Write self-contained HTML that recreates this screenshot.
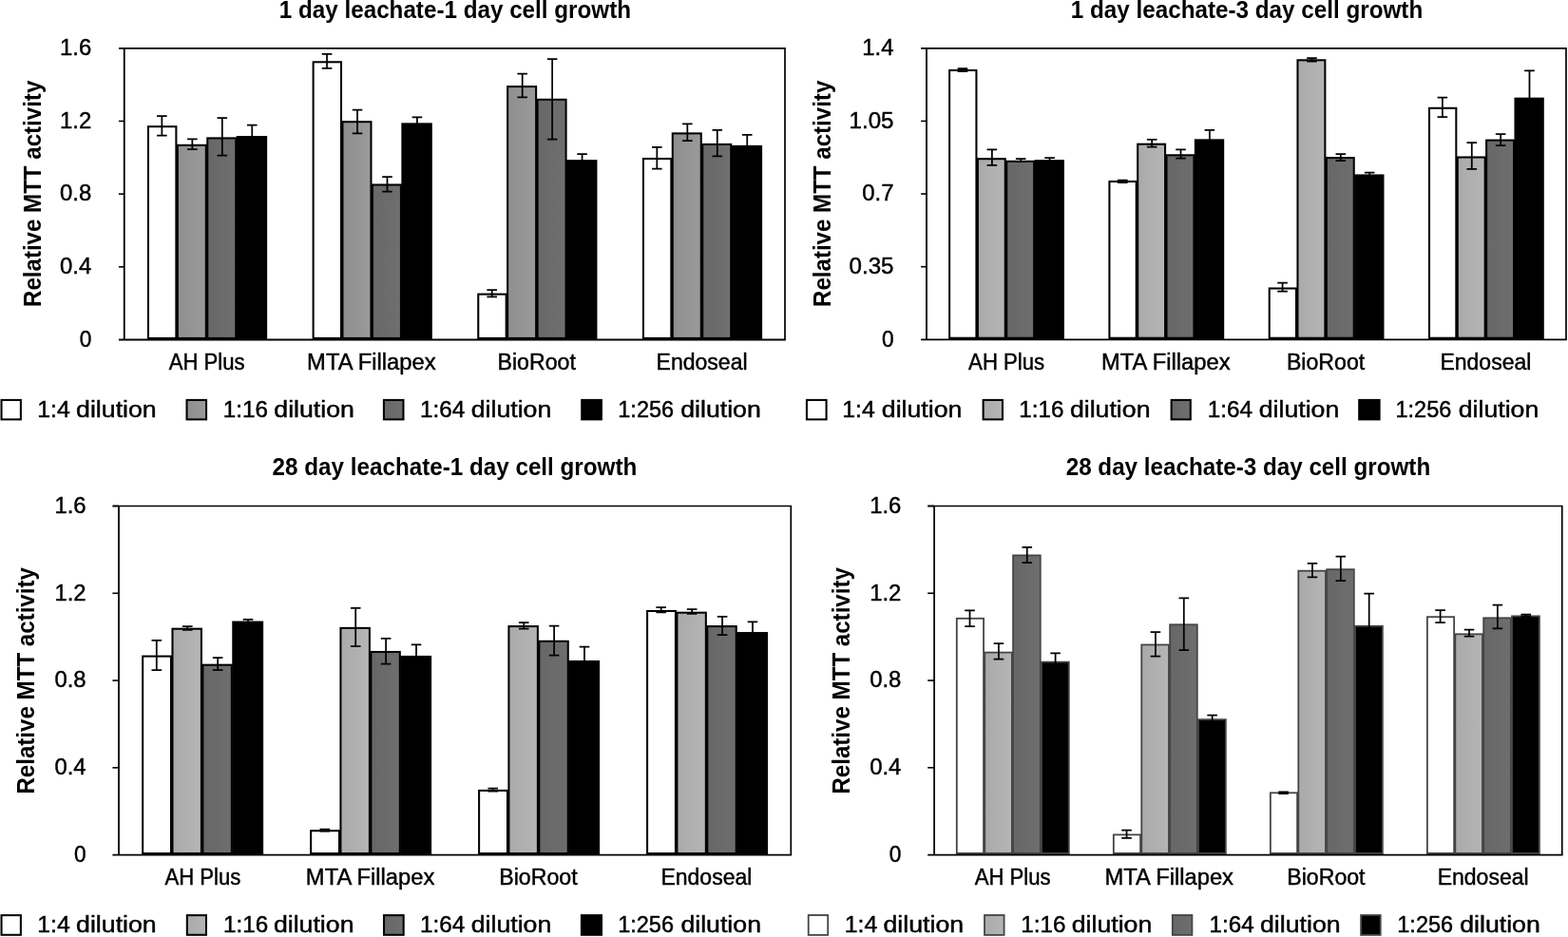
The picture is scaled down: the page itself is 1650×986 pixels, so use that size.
<!DOCTYPE html>
<html lang="en"><head><meta charset="utf-8"><title>Relative MTT activity</title>
<style>
html,body{margin:0;padding:0;background:#fff;}
body{width:1650px;height:986px;overflow:hidden;}
svg{display:block;}
text{font-family:"Liberation Sans", sans-serif;fill:#000;}
.t{font-size:23.5px;stroke:#000;stroke-width:0.45px;}
.b{font-size:25px;font-weight:bold;}
.y{font-size:25px;font-weight:bold;}
</style></head><body>
<svg width="1650" height="986" viewBox="0 0 1650 986">
<rect x="0" y="0" width="1650" height="986" fill="#fff"/>
<defs>
<linearGradient id="gl1" x1="0" y1="0" x2="1" y2="0"><stop offset="0" stop-color="#8f8f8f"/><stop offset="1" stop-color="#9a9a9a"/></linearGradient>
<linearGradient id="gd1" x1="0" y1="0" x2="1" y2="0"><stop offset="0" stop-color="#686868"/><stop offset="1" stop-color="#6f6f6f"/></linearGradient>
<linearGradient id="gl2" x1="0" y1="0" x2="1" y2="0"><stop offset="0" stop-color="#aaaaaa"/><stop offset="1" stop-color="#b5b5b5"/></linearGradient>
<linearGradient id="gd2" x1="0" y1="0" x2="1" y2="0"><stop offset="0" stop-color="#676767"/><stop offset="1" stop-color="#6e6e6e"/></linearGradient>
</defs>
<g id="c1">
<text class="y" x="293.8" y="18.8" text-anchor="start" textLength="370.2" lengthAdjust="spacingAndGlyphs">1 day leachate-1 day cell growth</text>
<text class="y" transform="translate(42.6 323) rotate(-90)" x="0" y="0" textLength="238.3" lengthAdjust="spacingAndGlyphs">Relative MTT activity</text>
<rect x="154.95" y="132.17" width="31.45" height="225.33" fill="#000"/>
<rect x="157" y="134.22" width="27.35" height="220.67" fill="#fff"/>
<rect x="185.8" y="151.78" width="32.05" height="205.72" fill="#000"/>
<rect x="187.85" y="153.83" width="27.95" height="201.07" fill="url(#gl1)"/>
<rect x="217.25" y="144.38" width="32.05" height="213.12" fill="#000"/>
<rect x="219.3" y="146.43" width="27.95" height="208.47" fill="url(#gd1)"/>
<rect x="248.7" y="143.05" width="32.45" height="214.45" fill="#000"/>
<path d="M165.07 122H175.67M165.07 142.6H175.67M170.37 122V142.6" fill="none" stroke="#000" stroke-width="1.75"/>
<path d="M197.07 146.3H207.67M197.07 157.2H207.67M202.37 146.3V157.2" fill="none" stroke="#000" stroke-width="1.75"/>
<path d="M228.52 124H239.12M228.52 163.7H239.12M233.82 124V163.7" fill="none" stroke="#000" stroke-width="1.75"/>
<path d="M259.97 131.6H270.57M259.97 154.8H270.57M265.27 131.6V154.8" fill="none" stroke="#000" stroke-width="1.75"/>
<rect x="328.6" y="64.27" width="31.45" height="293.23" fill="#000"/>
<rect x="330.65" y="66.32" width="27.35" height="288.57" fill="#fff"/>
<rect x="359.45" y="127.17" width="32.05" height="230.33" fill="#000"/>
<rect x="361.5" y="129.22" width="27.95" height="225.67" fill="url(#gl1)"/>
<rect x="390.9" y="193.47" width="32.05" height="164.03" fill="#000"/>
<rect x="392.95" y="195.53" width="27.95" height="159.37" fill="url(#gd1)"/>
<rect x="422.35" y="129.35" width="32.45" height="228.15" fill="#000"/>
<path d="M338.73 56.8H349.33M338.73 71.9H349.33M344.03 56.8V71.9" fill="none" stroke="#000" stroke-width="1.75"/>
<path d="M370.73 115.5H381.33M370.73 140.4H381.33M376.03 115.5V140.4" fill="none" stroke="#000" stroke-width="1.75"/>
<path d="M402.18 186.2H412.78M402.18 201.7H412.78M407.48 186.2V201.7" fill="none" stroke="#000" stroke-width="1.75"/>
<path d="M433.63 123.4H444.23M433.63 135.6H444.23M438.93 123.4V135.6" fill="none" stroke="#000" stroke-width="1.75"/>
<rect x="502.25" y="308.58" width="31.45" height="48.92" fill="#000"/>
<rect x="504.3" y="310.63" width="27.35" height="44.27" fill="#fff"/>
<rect x="533.1" y="90.07" width="32.05" height="267.43" fill="#000"/>
<rect x="535.15" y="92.12" width="27.95" height="262.77" fill="url(#gl1)"/>
<rect x="564.55" y="103.77" width="32.05" height="253.73" fill="#000"/>
<rect x="566.6" y="105.82" width="27.95" height="249.07" fill="url(#gd1)"/>
<rect x="596" y="168.15" width="32.45" height="189.35" fill="#000"/>
<path d="M512.38 305H522.98M512.38 312.4H522.98M517.68 305V312.4" fill="none" stroke="#000" stroke-width="1.75"/>
<path d="M544.38 77.5H554.98M544.38 102.4H554.98M549.68 77.5V102.4" fill="none" stroke="#000" stroke-width="1.75"/>
<path d="M575.83 62H586.42M575.83 146.7H586.42M581.12 62V146.7" fill="none" stroke="#000" stroke-width="1.75"/>
<path d="M607.28 162.2H617.88M607.28 174.4H617.88M612.58 162.2V174.4" fill="none" stroke="#000" stroke-width="1.75"/>
<rect x="675.9" y="165.97" width="31.45" height="191.53" fill="#000"/>
<rect x="677.95" y="168.03" width="27.35" height="186.87" fill="#fff"/>
<rect x="706.75" y="139.38" width="32.05" height="218.12" fill="#000"/>
<rect x="708.8" y="141.43" width="27.95" height="213.47" fill="url(#gl1)"/>
<rect x="738.2" y="150.88" width="32.05" height="206.62" fill="#000"/>
<rect x="740.25" y="152.93" width="27.95" height="201.97" fill="url(#gd1)"/>
<rect x="769.65" y="152.85" width="32.45" height="204.65" fill="#000"/>
<path d="M686.03 154.8H696.63M686.03 177.5H696.63M691.33 154.8V177.5" fill="none" stroke="#000" stroke-width="1.75"/>
<path d="M718.03 130.3H728.63M718.03 148H728.63M723.33 130.3V148" fill="none" stroke="#000" stroke-width="1.75"/>
<path d="M749.48 136.9H760.08M749.48 164.4H760.08M754.78 136.9V164.4" fill="none" stroke="#000" stroke-width="1.75"/>
<path d="M780.93 141.9H791.53M780.93 164H791.53M786.23 141.9V164" fill="none" stroke="#000" stroke-width="1.75"/>
<path d="M130.75 50.8H826V357.5" fill="none" stroke="#000" stroke-width="1.7"/>
<path d="M124.95 50.8H130.75M130.75 50.2V358.2M124.95 357.5H826.8" fill="none" stroke="#000" stroke-width="1.8"/>
<text class="t" x="63.1" y="58.1" text-anchor="start" textLength="33.2" lengthAdjust="spacingAndGlyphs">1.6</text>
<path d="M124.95 127.47H130.75" fill="none" stroke="#000" stroke-width="1.6"/>
<text class="t" x="63.1" y="134.78" text-anchor="start" textLength="33.2" lengthAdjust="spacingAndGlyphs">1.2</text>
<path d="M124.95 204.15H130.75" fill="none" stroke="#000" stroke-width="1.6"/>
<text class="t" x="63.1" y="211.45" text-anchor="start" textLength="33.2" lengthAdjust="spacingAndGlyphs">0.8</text>
<path d="M124.95 280.82H130.75" fill="none" stroke="#000" stroke-width="1.6"/>
<text class="t" x="63.1" y="288.12" text-anchor="start" textLength="33.2" lengthAdjust="spacingAndGlyphs">0.4</text>
<text class="t" x="83.7" y="364.8" text-anchor="start" textLength="12.6" lengthAdjust="spacingAndGlyphs">0</text>
<text class="t" x="177.66" y="388.6" text-anchor="start" textLength="80" lengthAdjust="spacingAndGlyphs">AH Plus</text>
<text class="t" x="323.12" y="388.6" text-anchor="start" textLength="135.5" lengthAdjust="spacingAndGlyphs">MTA Fillapex</text>
<text class="t" x="523.53" y="388.6" text-anchor="start" textLength="82.3" lengthAdjust="spacingAndGlyphs">BioRoot</text>
<text class="t" x="690.59" y="388.6" text-anchor="start" textLength="96" lengthAdjust="spacingAndGlyphs">Endoseal</text>
<rect x="1.52" y="420.92" width="20.35" height="20.45" fill="#fff" stroke="#000" stroke-width="2.05"/>
<text class="t" y="438.6"><tspan x="39.2" textLength="34.5" lengthAdjust="spacingAndGlyphs">1:4</tspan> <tspan x="80.1" textLength="84.6" lengthAdjust="spacingAndGlyphs">dilution</tspan></text>
<rect x="196.53" y="420.92" width="20.55" height="20.45" fill="url(#gl1)" stroke="#000" stroke-width="2.05"/>
<text class="t" y="438.6"><tspan x="234.7" textLength="47.2" lengthAdjust="spacingAndGlyphs">1:16</tspan> <tspan x="288.3" textLength="84.6" lengthAdjust="spacingAndGlyphs">dilution</tspan></text>
<rect x="403.92" y="420.92" width="20.55" height="20.45" fill="url(#gd1)" stroke="#000" stroke-width="2.05"/>
<text class="t" y="438.6"><tspan x="442.1" textLength="47.2" lengthAdjust="spacingAndGlyphs">1:64</tspan> <tspan x="495.7" textLength="84.6" lengthAdjust="spacingAndGlyphs">dilution</tspan></text>
<rect x="612.23" y="420.92" width="20.65" height="20.45" fill="#000" stroke="#000" stroke-width="2.05"/>
<text class="t" y="438.6"><tspan x="650.3" textLength="58.8" lengthAdjust="spacingAndGlyphs">1:256</tspan> <tspan x="716.2" textLength="84.6" lengthAdjust="spacingAndGlyphs">dilution</tspan></text>
</g>
<g id="c2">
<text class="y" x="1126.8" y="18.8" text-anchor="start" textLength="370.4" lengthAdjust="spacingAndGlyphs">1 day leachate-3 day cell growth</text>
<text class="y" transform="translate(874 323) rotate(-90)" x="0" y="0" textLength="238.3" lengthAdjust="spacingAndGlyphs">Relative MTT activity</text>
<rect x="998.1" y="72.97" width="30.35" height="284.33" fill="#000"/>
<rect x="1000.15" y="75.02" width="26.25" height="279.68" fill="#fff"/>
<rect x="1027.85" y="166.17" width="30.95" height="191.13" fill="#000"/>
<rect x="1029.9" y="168.22" width="26.85" height="186.47" fill="url(#gl2)"/>
<rect x="1058.2" y="168.78" width="30.95" height="188.53" fill="#000"/>
<rect x="1060.25" y="170.83" width="26.85" height="183.87" fill="url(#gd2)"/>
<rect x="1088.55" y="168.15" width="31.35" height="189.15" fill="#000"/>
<path d="M1007.68 72.1H1018.27M1007.68 75H1018.27M1012.98 72.1V75" fill="none" stroke="#000" stroke-width="1.75"/>
<path d="M1038.58 157.4H1049.17M1038.58 173.8H1049.17M1043.88 157.4V173.8" fill="none" stroke="#000" stroke-width="1.75"/>
<path d="M1068.92 167H1079.52M1068.92 170H1079.52M1074.22 167V170" fill="none" stroke="#000" stroke-width="1.75"/>
<path d="M1099.28 166.1H1109.88M1099.28 170.5H1109.88M1104.58 166.1V170.5" fill="none" stroke="#000" stroke-width="1.75"/>
<rect x="1166.4" y="189.97" width="30.35" height="167.33" fill="#000"/>
<rect x="1168.45" y="192.03" width="26.25" height="162.67" fill="#fff"/>
<rect x="1196.15" y="150.67" width="30.95" height="206.63" fill="#000"/>
<rect x="1198.2" y="152.72" width="26.85" height="201.97" fill="url(#gl2)"/>
<rect x="1226.5" y="162.28" width="30.95" height="195.03" fill="#000"/>
<rect x="1228.55" y="164.33" width="26.85" height="190.37" fill="url(#gd2)"/>
<rect x="1256.85" y="146.35" width="31.35" height="210.95" fill="#000"/>
<path d="M1175.98 189.7H1186.58M1175.98 192H1186.58M1181.28 189.7V192" fill="none" stroke="#000" stroke-width="1.75"/>
<path d="M1206.88 146.9H1217.47M1206.88 154.6H1217.47M1212.17 146.9V154.6" fill="none" stroke="#000" stroke-width="1.75"/>
<path d="M1237.23 157.4H1247.83M1237.23 166.6H1247.83M1242.53 157.4V166.6" fill="none" stroke="#000" stroke-width="1.75"/>
<path d="M1267.58 136.9H1278.17M1267.58 156H1278.17M1272.88 136.9V156" fill="none" stroke="#000" stroke-width="1.75"/>
<rect x="1334.7" y="302.48" width="30.35" height="54.82" fill="#000"/>
<rect x="1336.75" y="304.53" width="26.25" height="50.17" fill="#fff"/>
<rect x="1364.45" y="62.27" width="30.95" height="295.03" fill="#000"/>
<rect x="1366.5" y="64.33" width="26.85" height="290.38" fill="url(#gl2)"/>
<rect x="1394.8" y="165.07" width="30.95" height="192.23" fill="#000"/>
<rect x="1396.85" y="167.12" width="26.85" height="187.57" fill="url(#gd2)"/>
<rect x="1425.15" y="183.45" width="31.35" height="173.85" fill="#000"/>
<path d="M1344.28 297.6H1354.88M1344.28 306.5H1354.88M1349.58 297.6V306.5" fill="none" stroke="#000" stroke-width="1.75"/>
<path d="M1375.17 61.2H1385.77M1375.17 64.5H1385.77M1380.47 61.2V64.5" fill="none" stroke="#000" stroke-width="1.75"/>
<path d="M1405.53 162.2H1416.12M1405.53 169.2H1416.12M1410.83 162.2V169.2" fill="none" stroke="#000" stroke-width="1.75"/>
<path d="M1435.88 181.6H1446.47M1435.88 185.6H1446.47M1441.17 181.6V185.6" fill="none" stroke="#000" stroke-width="1.75"/>
<rect x="1503" y="112.77" width="30.35" height="244.53" fill="#000"/>
<rect x="1505.05" y="114.82" width="26.25" height="239.88" fill="#fff"/>
<rect x="1532.75" y="164.47" width="30.95" height="192.83" fill="#000"/>
<rect x="1534.8" y="166.53" width="26.85" height="188.17" fill="url(#gl2)"/>
<rect x="1563.1" y="146.57" width="30.95" height="210.73" fill="#000"/>
<rect x="1565.15" y="148.62" width="26.85" height="206.07" fill="url(#gd2)"/>
<rect x="1593.45" y="102.65" width="31.35" height="254.65" fill="#000"/>
<path d="M1512.58 102.6H1523.17M1512.58 123.1H1523.17M1517.88 102.6V123.1" fill="none" stroke="#000" stroke-width="1.75"/>
<path d="M1543.47 150H1554.07M1543.47 177.9H1554.07M1548.77 150V177.9" fill="none" stroke="#000" stroke-width="1.75"/>
<path d="M1573.83 141.2H1584.42M1573.83 153H1584.42M1579.12 141.2V153" fill="none" stroke="#000" stroke-width="1.75"/>
<path d="M1604.17 74.3H1614.77M1604.17 131H1614.77M1609.47 74.3V131" fill="none" stroke="#000" stroke-width="1.75"/>
<path d="M975 50.8H1648V357.3" fill="none" stroke="#000" stroke-width="1.7"/>
<path d="M969.1 50.8H975M975 50.2V358M969.1 357.3H1648.8" fill="none" stroke="#000" stroke-width="1.8"/>
<text class="t" x="907.3" y="58.1" text-anchor="start" textLength="33.2" lengthAdjust="spacingAndGlyphs">1.4</text>
<path d="M969.1 127.42H975" fill="none" stroke="#000" stroke-width="1.6"/>
<text class="t" x="893.5" y="134.72" text-anchor="start" textLength="47" lengthAdjust="spacingAndGlyphs">1.05</text>
<path d="M969.1 204.05H975" fill="none" stroke="#000" stroke-width="1.6"/>
<text class="t" x="907.3" y="211.35" text-anchor="start" textLength="33.2" lengthAdjust="spacingAndGlyphs">0.7</text>
<path d="M969.1 280.68H975" fill="none" stroke="#000" stroke-width="1.6"/>
<text class="t" x="893.5" y="287.98" text-anchor="start" textLength="47" lengthAdjust="spacingAndGlyphs">0.35</text>
<text class="t" x="927.9" y="364.6" text-anchor="start" textLength="12.6" lengthAdjust="spacingAndGlyphs">0</text>
<text class="t" x="1019.12" y="388.6" text-anchor="start" textLength="80" lengthAdjust="spacingAndGlyphs">AH Plus</text>
<text class="t" x="1159.03" y="388.6" text-anchor="start" textLength="135.5" lengthAdjust="spacingAndGlyphs">MTA Fillapex</text>
<text class="t" x="1353.88" y="388.6" text-anchor="start" textLength="82.3" lengthAdjust="spacingAndGlyphs">BioRoot</text>
<text class="t" x="1515.38" y="388.6" text-anchor="start" textLength="96" lengthAdjust="spacingAndGlyphs">Endoseal</text>
<rect x="848.92" y="420.92" width="20.65" height="20.45" fill="#fff" stroke="#000" stroke-width="2.05"/>
<text class="t" y="438.6"><tspan x="886.3" textLength="34.5" lengthAdjust="spacingAndGlyphs">1:4</tspan> <tspan x="927.8" textLength="84.6" lengthAdjust="spacingAndGlyphs">dilution</tspan></text>
<rect x="1034.62" y="420.92" width="20.35" height="20.45" fill="url(#gl2)" stroke="#000" stroke-width="2.05"/>
<text class="t" y="438.6"><tspan x="1072.3" textLength="47.2" lengthAdjust="spacingAndGlyphs">1:16</tspan> <tspan x="1125.9" textLength="84.6" lengthAdjust="spacingAndGlyphs">dilution</tspan></text>
<rect x="1232.62" y="420.92" width="20.15" height="20.45" fill="url(#gd2)" stroke="#000" stroke-width="2.05"/>
<text class="t" y="438.6"><tspan x="1270.8" textLength="47.2" lengthAdjust="spacingAndGlyphs">1:64</tspan> <tspan x="1324.7" textLength="84.6" lengthAdjust="spacingAndGlyphs">dilution</tspan></text>
<rect x="1430.23" y="420.92" width="21.35" height="20.45" fill="#000" stroke="#000" stroke-width="2.05"/>
<text class="t" y="438.6"><tspan x="1468.5" textLength="58.8" lengthAdjust="spacingAndGlyphs">1:256</tspan> <tspan x="1534.7" textLength="84.6" lengthAdjust="spacingAndGlyphs">dilution</tspan></text>
</g>
<g id="c3">
<text class="y" x="286.6" y="500.2" text-anchor="start" textLength="383.7" lengthAdjust="spacingAndGlyphs">28 day leachate-1 day cell growth</text>
<text class="y" transform="translate(36 835.6) rotate(-90)" x="0" y="0" textLength="238.5" lengthAdjust="spacingAndGlyphs">Relative MTT activity</text>
<rect x="149.15" y="689.58" width="31.9" height="210.07" fill="#000"/>
<rect x="151.2" y="691.62" width="27.8" height="205.42" fill="#fff"/>
<rect x="180.45" y="660.68" width="32.5" height="238.97" fill="#000"/>
<rect x="182.5" y="662.73" width="28.4" height="234.32" fill="url(#gl2)"/>
<rect x="212.35" y="698.68" width="32.5" height="200.97" fill="#000"/>
<rect x="214.4" y="700.73" width="28.4" height="196.32" fill="url(#gd2)"/>
<rect x="244.25" y="653.55" width="32.9" height="246.1" fill="#000"/>
<path d="M159.5 673.8H170.1M159.5 705H170.1M164.8 673.8V705" fill="none" stroke="#000" stroke-width="1.75"/>
<path d="M191.95 659.1H202.55M191.95 662.8H202.55M197.25 659.1V662.8" fill="none" stroke="#000" stroke-width="1.75"/>
<path d="M223.85 692.1H234.45M223.85 705H234.45M229.15 692.1V705" fill="none" stroke="#000" stroke-width="1.75"/>
<path d="M255.75 651.9H266.35M255.75 655.5H266.35M261.05 651.9V655.5" fill="none" stroke="#000" stroke-width="1.75"/>
<rect x="326.12" y="873.18" width="31.9" height="26.47" fill="#000"/>
<rect x="328.17" y="875.23" width="27.8" height="21.82" fill="#fff"/>
<rect x="357.42" y="659.88" width="32.5" height="239.77" fill="#000"/>
<rect x="359.47" y="661.92" width="28.4" height="235.12" fill="url(#gl2)"/>
<rect x="389.32" y="684.98" width="32.5" height="214.67" fill="#000"/>
<rect x="391.37" y="687.02" width="28.4" height="210.02" fill="url(#gd2)"/>
<rect x="421.22" y="689.95" width="32.9" height="209.7" fill="#000"/>
<path d="M336.47 872.7H347.07M336.47 874.6H347.07M341.77 872.7V874.6" fill="none" stroke="#000" stroke-width="1.75"/>
<path d="M368.92 639.9H379.52M368.92 680.1H379.52M374.22 639.9V680.1" fill="none" stroke="#000" stroke-width="1.75"/>
<path d="M400.82 671.8H411.42M400.82 698.6H411.42M406.12 671.8V698.6" fill="none" stroke="#000" stroke-width="1.75"/>
<path d="M432.72 678.3H443.32M432.72 702H443.32M438.02 678.3V702" fill="none" stroke="#000" stroke-width="1.75"/>
<rect x="503.09" y="830.88" width="31.9" height="68.77" fill="#000"/>
<rect x="505.14" y="832.92" width="27.8" height="64.12" fill="#fff"/>
<rect x="534.39" y="658.08" width="32.5" height="241.57" fill="#000"/>
<rect x="536.44" y="660.12" width="28.4" height="236.92" fill="url(#gl2)"/>
<rect x="566.29" y="673.77" width="32.5" height="225.88" fill="#000"/>
<rect x="568.34" y="675.82" width="28.4" height="221.22" fill="url(#gd2)"/>
<rect x="598.19" y="694.95" width="32.9" height="204.7" fill="#000"/>
<path d="M513.44 829.5H524.04M513.44 832.5H524.04M518.74 829.5V832.5" fill="none" stroke="#000" stroke-width="1.75"/>
<path d="M545.89 655.2H556.49M545.89 661.5H556.49M551.19 655.2V661.5" fill="none" stroke="#000" stroke-width="1.75"/>
<path d="M577.79 658.5H588.39M577.79 689.5H588.39M583.09 658.5V689.5" fill="none" stroke="#000" stroke-width="1.75"/>
<path d="M609.69 680.5H620.29M609.69 710H620.29M614.99 680.5V710" fill="none" stroke="#000" stroke-width="1.75"/>
<rect x="680.06" y="641.98" width="31.9" height="257.67" fill="#000"/>
<rect x="682.11" y="644.02" width="27.8" height="253.02" fill="#fff"/>
<rect x="711.36" y="643.68" width="32.5" height="255.97" fill="#000"/>
<rect x="713.41" y="645.73" width="28.4" height="251.32" fill="url(#gl2)"/>
<rect x="743.26" y="658.08" width="32.5" height="241.57" fill="#000"/>
<rect x="745.31" y="660.12" width="28.4" height="236.92" fill="url(#gd2)"/>
<rect x="775.16" y="665.05" width="32.9" height="234.6" fill="#000"/>
<path d="M690.41 639.1H701.01M690.41 644.3H701.01M695.71 639.1V644.3" fill="none" stroke="#000" stroke-width="1.75"/>
<path d="M722.86 641.2H733.46M722.86 645.8H733.46M728.16 641.2V645.8" fill="none" stroke="#000" stroke-width="1.75"/>
<path d="M754.76 648.9H765.36M754.76 668.1H765.36M760.06 648.9V668.1" fill="none" stroke="#000" stroke-width="1.75"/>
<path d="M786.66 654.3H797.26M786.66 676H797.26M791.96 654.3V676" fill="none" stroke="#000" stroke-width="1.75"/>
<path d="M125 532.5H832.3V899.65" fill="none" stroke="#000" stroke-width="1.7"/>
<path d="M118.4 532.5H125M125 531.9V900.35M118.4 899.65H833.1" fill="none" stroke="#000" stroke-width="1.8"/>
<text class="t" x="57.4" y="539.8" text-anchor="start" textLength="33.2" lengthAdjust="spacingAndGlyphs">1.6</text>
<path d="M118.4 624.29H125" fill="none" stroke="#000" stroke-width="1.6"/>
<text class="t" x="57.4" y="631.59" text-anchor="start" textLength="33.2" lengthAdjust="spacingAndGlyphs">1.2</text>
<path d="M118.4 716.08H125" fill="none" stroke="#000" stroke-width="1.6"/>
<text class="t" x="57.4" y="723.38" text-anchor="start" textLength="33.2" lengthAdjust="spacingAndGlyphs">0.8</text>
<path d="M118.4 807.86H125" fill="none" stroke="#000" stroke-width="1.6"/>
<text class="t" x="57.4" y="815.16" text-anchor="start" textLength="33.2" lengthAdjust="spacingAndGlyphs">0.4</text>
<text class="t" x="78" y="906.95" text-anchor="start" textLength="12.6" lengthAdjust="spacingAndGlyphs">0</text>
<text class="t" x="173.41" y="930.9" text-anchor="start" textLength="80" lengthAdjust="spacingAndGlyphs">AH Plus</text>
<text class="t" x="321.89" y="930.9" text-anchor="start" textLength="135.5" lengthAdjust="spacingAndGlyphs">MTA Fillapex</text>
<text class="t" x="525.31" y="930.9" text-anchor="start" textLength="82.3" lengthAdjust="spacingAndGlyphs">BioRoot</text>
<text class="t" x="695.39" y="930.9" text-anchor="start" textLength="96" lengthAdjust="spacingAndGlyphs">Endoseal</text>
<rect x="1.52" y="963.12" width="20.35" height="20.65" fill="#fff" stroke="#000" stroke-width="2.05"/>
<text class="t" y="980.7"><tspan x="39.2" textLength="34.5" lengthAdjust="spacingAndGlyphs">1:4</tspan> <tspan x="80.1" textLength="84.6" lengthAdjust="spacingAndGlyphs">dilution</tspan></text>
<rect x="196.83" y="963.12" width="20.15" height="20.65" fill="url(#gl2)" stroke="#000" stroke-width="2.05"/>
<text class="t" y="980.7"><tspan x="235.1" textLength="47.2" lengthAdjust="spacingAndGlyphs">1:16</tspan> <tspan x="287.9" textLength="84.6" lengthAdjust="spacingAndGlyphs">dilution</tspan></text>
<rect x="404.02" y="963.12" width="20.65" height="20.65" fill="url(#gd2)" stroke="#000" stroke-width="2.05"/>
<text class="t" y="980.7"><tspan x="442.1" textLength="47.2" lengthAdjust="spacingAndGlyphs">1:64</tspan> <tspan x="495.7" textLength="84.6" lengthAdjust="spacingAndGlyphs">dilution</tspan></text>
<rect x="611.92" y="963.12" width="21.05" height="20.65" fill="#000" stroke="#000" stroke-width="2.05"/>
<text class="t" y="980.7"><tspan x="650.2" textLength="58.8" lengthAdjust="spacingAndGlyphs">1:256</tspan> <tspan x="716.4" textLength="84.6" lengthAdjust="spacingAndGlyphs">dilution</tspan></text>
</g>
<g id="c4">
<text class="y" x="1121.7" y="500.2" text-anchor="start" textLength="383.5" lengthAdjust="spacingAndGlyphs">28 day leachate-3 day cell growth</text>
<text class="y" transform="translate(894 835.6) rotate(-90)" x="0" y="0" textLength="238.5" lengthAdjust="spacingAndGlyphs">Relative MTT activity</text>
<rect x="1005.9" y="649.9" width="30.05" height="249.7" fill="#444"/>
<rect x="1007.7" y="651.7" width="26.45" height="245.3" fill="#fff"/>
<rect x="1035.35" y="685.7" width="30.45" height="213.9" fill="#444"/>
<rect x="1037.15" y="687.5" width="26.85" height="209.5" fill="url(#gl2)"/>
<rect x="1065.2" y="583.5" width="30.45" height="316.1" fill="#444"/>
<rect x="1067" y="585.3" width="26.85" height="311.7" fill="url(#gd2)"/>
<rect x="1095.05" y="695.75" width="30.65" height="203.85" fill="#444"/>
<rect x="1096.85" y="697.55" width="27.05" height="199.45" fill="#000"/>
<path d="M1015.23 642.3H1025.83M1015.23 659.1H1025.83M1020.52 642.3V659.1" fill="none" stroke="#000" stroke-width="1.75"/>
<path d="M1045.62 677H1056.22M1045.62 693.5H1056.22M1050.92 677V693.5" fill="none" stroke="#000" stroke-width="1.75"/>
<path d="M1075.47 575.9H1086.07M1075.47 592.1H1086.07M1080.77 575.9V592.1" fill="none" stroke="#000" stroke-width="1.75"/>
<path d="M1105.33 687.4H1115.92M1105.33 704H1115.92M1110.62 687.4V704" fill="none" stroke="#000" stroke-width="1.75"/>
<rect x="1170.93" y="877.5" width="30.05" height="22.1" fill="#444"/>
<rect x="1172.73" y="879.3" width="26.45" height="17.7" fill="#fff"/>
<rect x="1200.38" y="677.6" width="30.45" height="222" fill="#444"/>
<rect x="1202.18" y="679.4" width="26.85" height="217.6" fill="url(#gl2)"/>
<rect x="1230.23" y="656.4" width="30.45" height="243.2" fill="#444"/>
<rect x="1232.03" y="658.2" width="26.85" height="238.8" fill="url(#gd2)"/>
<rect x="1260.08" y="756.25" width="30.65" height="143.35" fill="#444"/>
<rect x="1261.88" y="758.05" width="27.05" height="138.95" fill="#000"/>
<path d="M1180.26 873.6H1190.86M1180.26 881.8H1190.86M1185.56 873.6V881.8" fill="none" stroke="#000" stroke-width="1.75"/>
<path d="M1210.65 665H1221.25M1210.65 690.5H1221.25M1215.95 665V690.5" fill="none" stroke="#000" stroke-width="1.75"/>
<path d="M1240.51 629.4H1251.11M1240.51 684.2H1251.11M1245.81 629.4V684.2" fill="none" stroke="#000" stroke-width="1.75"/>
<path d="M1270.36 752.7H1280.95M1270.36 760H1280.95M1275.65 752.7V760" fill="none" stroke="#000" stroke-width="1.75"/>
<rect x="1335.96" y="833.4" width="30.05" height="66.2" fill="#444"/>
<rect x="1337.76" y="835.2" width="26.45" height="61.8" fill="#fff"/>
<rect x="1365.41" y="599.8" width="30.45" height="299.8" fill="#444"/>
<rect x="1367.21" y="601.6" width="26.85" height="295.4" fill="url(#gl2)"/>
<rect x="1395.26" y="598.3" width="30.45" height="301.3" fill="#444"/>
<rect x="1397.06" y="600.1" width="26.85" height="296.9" fill="url(#gd2)"/>
<rect x="1425.11" y="657.95" width="30.65" height="241.65" fill="#444"/>
<rect x="1426.91" y="659.75" width="27.05" height="237.25" fill="#000"/>
<path d="M1345.29 833.4H1355.88M1345.29 835H1355.88M1350.59 833.4V835" fill="none" stroke="#000" stroke-width="1.75"/>
<path d="M1375.68 592.9H1386.28M1375.68 607.3H1386.28M1380.98 592.9V607.3" fill="none" stroke="#000" stroke-width="1.75"/>
<path d="M1405.54 585.5H1416.13M1405.54 611.2H1416.13M1410.84 585.5V611.2" fill="none" stroke="#000" stroke-width="1.75"/>
<path d="M1435.38 624.5H1445.98M1435.38 692H1445.98M1440.68 624.5V692" fill="none" stroke="#000" stroke-width="1.75"/>
<rect x="1500.99" y="648.3" width="30.05" height="251.3" fill="#444"/>
<rect x="1502.79" y="650.1" width="26.45" height="246.9" fill="#fff"/>
<rect x="1530.44" y="666.4" width="30.45" height="233.2" fill="#444"/>
<rect x="1532.24" y="668.2" width="26.85" height="228.8" fill="url(#gl2)"/>
<rect x="1560.29" y="649.4" width="30.45" height="250.2" fill="#444"/>
<rect x="1562.09" y="651.2" width="26.85" height="245.8" fill="url(#gd2)"/>
<rect x="1590.14" y="647.45" width="30.65" height="252.15" fill="#444"/>
<rect x="1591.94" y="649.25" width="27.05" height="247.75" fill="#000"/>
<path d="M1510.32 642.2H1520.91M1510.32 655.1H1520.91M1515.62 642.2V655.1" fill="none" stroke="#000" stroke-width="1.75"/>
<path d="M1540.71 662.5H1551.31M1540.71 669.5H1551.31M1546.01 662.5V669.5" fill="none" stroke="#000" stroke-width="1.75"/>
<path d="M1570.57 636.7H1581.16M1570.57 661.4H1581.16M1575.87 636.7V661.4" fill="none" stroke="#000" stroke-width="1.75"/>
<path d="M1600.41 646.6H1611.01M1600.41 648.6H1611.01M1605.71 646.6V648.6" fill="none" stroke="#000" stroke-width="1.75"/>
<path d="M983.1 532.5H1643.75V899.6" fill="none" stroke="#000" stroke-width="1.7"/>
<path d="M976.2 532.5H983.1M983.1 531.9V900.3M976.2 899.6H1644.55" fill="none" stroke="#000" stroke-width="1.8"/>
<text class="t" x="915.2" y="539.8" text-anchor="start" textLength="33.2" lengthAdjust="spacingAndGlyphs">1.6</text>
<path d="M976.2 624.27H983.1" fill="none" stroke="#000" stroke-width="1.6"/>
<text class="t" x="915.2" y="631.57" text-anchor="start" textLength="33.2" lengthAdjust="spacingAndGlyphs">1.2</text>
<path d="M976.2 716.05H983.1" fill="none" stroke="#000" stroke-width="1.6"/>
<text class="t" x="915.2" y="723.35" text-anchor="start" textLength="33.2" lengthAdjust="spacingAndGlyphs">0.8</text>
<path d="M976.2 807.83H983.1" fill="none" stroke="#000" stroke-width="1.6"/>
<text class="t" x="915.2" y="815.12" text-anchor="start" textLength="33.2" lengthAdjust="spacingAndGlyphs">0.4</text>
<text class="t" x="935.8" y="906.9" text-anchor="start" textLength="12.6" lengthAdjust="spacingAndGlyphs">0</text>
<text class="t" x="1025.68" y="930.9" text-anchor="start" textLength="80" lengthAdjust="spacingAndGlyphs">AH Plus</text>
<text class="t" x="1162.49" y="930.9" text-anchor="start" textLength="135.5" lengthAdjust="spacingAndGlyphs">MTA Fillapex</text>
<text class="t" x="1354.26" y="930.9" text-anchor="start" textLength="82.3" lengthAdjust="spacingAndGlyphs">BioRoot</text>
<text class="t" x="1512.67" y="930.9" text-anchor="start" textLength="96" lengthAdjust="spacingAndGlyphs">Endoseal</text>
<rect x="850.7" y="963" width="20.5" height="20.9" fill="#fff" stroke="#444" stroke-width="1.8"/>
<text class="t" y="980.7"><tspan x="888.7" textLength="34.5" lengthAdjust="spacingAndGlyphs">1:4</tspan> <tspan x="929.5" textLength="84.6" lengthAdjust="spacingAndGlyphs">dilution</tspan></text>
<rect x="1036" y="963" width="20.6" height="20.9" fill="url(#gl2)" stroke="#444" stroke-width="1.8"/>
<text class="t" y="980.7"><tspan x="1074.3" textLength="47.2" lengthAdjust="spacingAndGlyphs">1:16</tspan> <tspan x="1127.7" textLength="84.6" lengthAdjust="spacingAndGlyphs">dilution</tspan></text>
<rect x="1233.8" y="963" width="20.6" height="20.9" fill="url(#gd2)" stroke="#444" stroke-width="1.8"/>
<text class="t" y="980.7"><tspan x="1272.6" textLength="47.2" lengthAdjust="spacingAndGlyphs">1:64</tspan> <tspan x="1326" textLength="84.6" lengthAdjust="spacingAndGlyphs">dilution</tspan></text>
<rect x="1432.1" y="963" width="20.6" height="20.9" fill="#000" stroke="#444" stroke-width="1.8"/>
<text class="t" y="980.7"><tspan x="1470.3" textLength="58.8" lengthAdjust="spacingAndGlyphs">1:256</tspan> <tspan x="1536.2" textLength="84.6" lengthAdjust="spacingAndGlyphs">dilution</tspan></text>
</g>
</svg></body></html>
